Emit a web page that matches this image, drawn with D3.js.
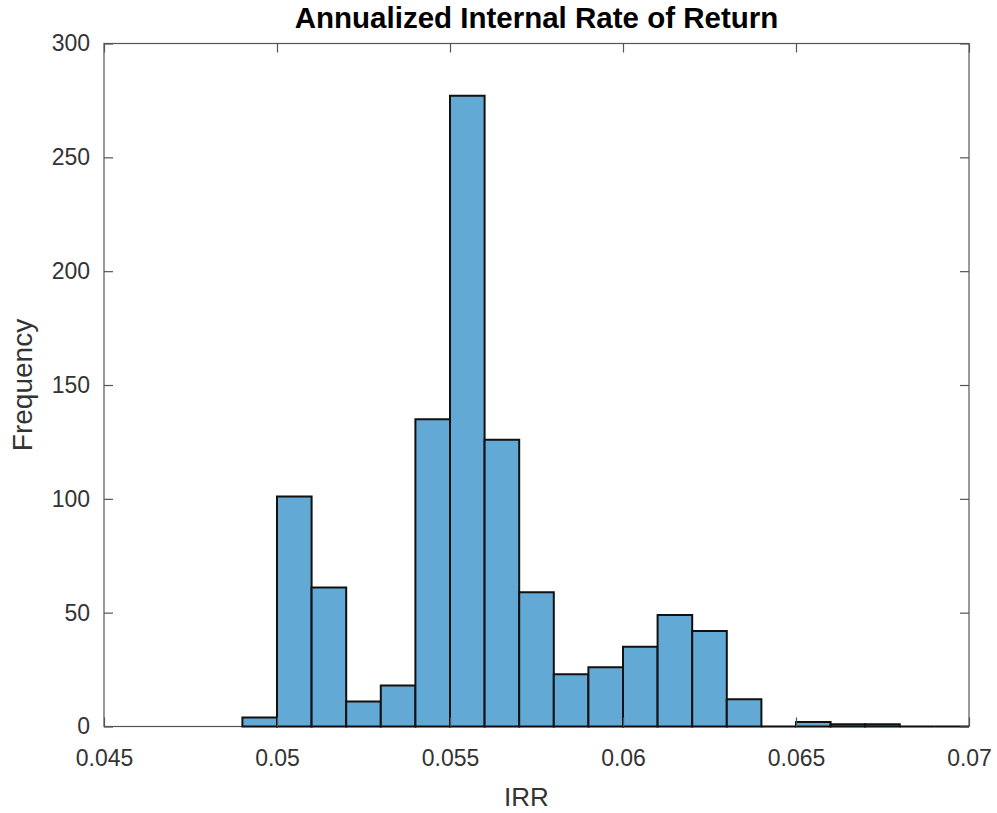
<!DOCTYPE html>
<html>
<head>
<meta charset="utf-8">
<script src="https://cdn.jsdelivr.net/npm/d3@7"></script>
<style>
  html, body { margin: 0; padding: 0; background: #ffffff; }
  svg text { font-family: "Liberation Sans", Arial, Helvetica, sans-serif; }
</style>
</head>
<body>
<svg id="chart" width="997" height="813"></svg>
<script>
// Histogram bin edges (IRR) and counts per bin
const binEdges = [0.049, 0.050, 0.051, 0.052, 0.053, 0.054, 0.055, 0.056, 0.057, 0.058, 0.059,
                  0.060, 0.061, 0.062, 0.063, 0.064, 0.065, 0.066, 0.067, 0.068, 0.069, 0.070];
const counts = [4, 101, 61, 11, 18, 135, 277, 126, 59, 23, 26,
                35, 49, 42, 12, 0, 2, 1, 1, 0, 0];
const xTicks = [0.045, 0.05, 0.055, 0.06, 0.065, 0.07];
const xTickLabels = ["0.045", "0.05", "0.055", "0.06", "0.065", "0.07"];
const yTicks = [0, 50, 100, 150, 200, 250, 300];
const xDomain = [0.045, 0.07];
const yDomain = [0, 300];
const titleText = "Annualized Internal Rate of Return";
const xLabelText = "IRR";
const yLabelText = "Frequency";

const svg = d3.select("#chart");
const plot = { left: 104, right: 969, top: 43.5, bottom: 726.5 };
const axisColor = "#333333";
const tickLen = 9;

const x = d3.scaleLinear().domain(xDomain).range([plot.left, plot.right]);
const y = d3.scaleLinear().domain(yDomain).range([plot.bottom, plot.top]);

const bins = counts.map((c, i) => ({ x0: binEdges[i], x1: binEdges[i + 1], count: c }));

// Box outline (drawn first so bar edges sit on top of the baseline)
svg.append("rect")
  .attr("x", plot.left)
  .attr("y", plot.top)
  .attr("width", plot.right - plot.left)
  .attr("height", plot.bottom - plot.top)
  .attr("fill", "none")
  .attr("stroke", "#555555")
  .attr("stroke-width", 1.2);

// Bars as closed paths, so empty bins still show their edge on the baseline
svg.append("g")
  .selectAll("path")
  .data(bins)
  .join("path")
  .attr("d", d => {
    const x0 = x(d.x0), x1 = x(d.x1), y0 = y(0), y1 = y(d.count);
    return `M${x0},${y0}V${y1}H${x1}V${y0}Z`;
  })
  .attr("fill", "rgb(99,169,214)")
  .attr("stroke", "#111111")
  .attr("stroke-width", 2)
  .attr("stroke-linejoin", "miter");

// Axes with inward ticks on all four sides (box on)
const axisStyle = g => {
  g.select(".domain").remove();
  g.selectAll(".tick line").attr("stroke", "#555555").attr("stroke-width", 1.2);
  g.selectAll(".tick text").attr("fill", axisColor).attr("font-size", 23);
};

svg.append("g")
  .attr("transform", `translate(0,${plot.bottom})`)
  .call(d3.axisBottom(x).tickValues(xTicks).tickFormat((d, i) => xTickLabels[i])
        .tickSizeInner(-tickLen).tickSizeOuter(0).tickPadding(tickLen + 14))
  .call(axisStyle);

svg.append("g")
  .attr("transform", `translate(0,${plot.top})`)
  .call(d3.axisTop(x).tickValues(xTicks).tickFormat("")
        .tickSizeInner(-tickLen).tickSizeOuter(0))
  .call(axisStyle);

svg.append("g")
  .attr("transform", `translate(${plot.left},0)`)
  .call(d3.axisLeft(y).tickValues(yTicks).tickFormat(d3.format("d"))
        .tickSizeInner(-tickLen).tickSizeOuter(0).tickPadding(tickLen + 5))
  .call(axisStyle);

svg.append("g")
  .attr("transform", `translate(${plot.right},0)`)
  .call(d3.axisRight(y).tickValues(yTicks).tickFormat("")
        .tickSizeInner(-tickLen).tickSizeOuter(0))
  .call(axisStyle);

// Title and axis labels
svg.append("text")
  .attr("x", (plot.left + plot.right) / 2)
  .attr("y", 28)
  .attr("text-anchor", "middle")
  .attr("font-size", 29.5)
  .attr("font-weight", "bold")
  .attr("fill", "#000000")
  .text(titleText);

svg.append("text")
  .attr("x", (plot.left + plot.right) / 2 - 10)
  .attr("y", 806)
  .attr("text-anchor", "middle")
  .attr("font-size", 26)
  .attr("fill", axisColor)
  .text(xLabelText);

svg.append("text")
  .attr("transform", `translate(32,${(plot.top + plot.bottom) / 2}) rotate(-90)`)
  .attr("text-anchor", "middle")
  .attr("font-size", 28)
  .attr("fill", axisColor)
  .text(yLabelText);
</script>
</body>
</html>
